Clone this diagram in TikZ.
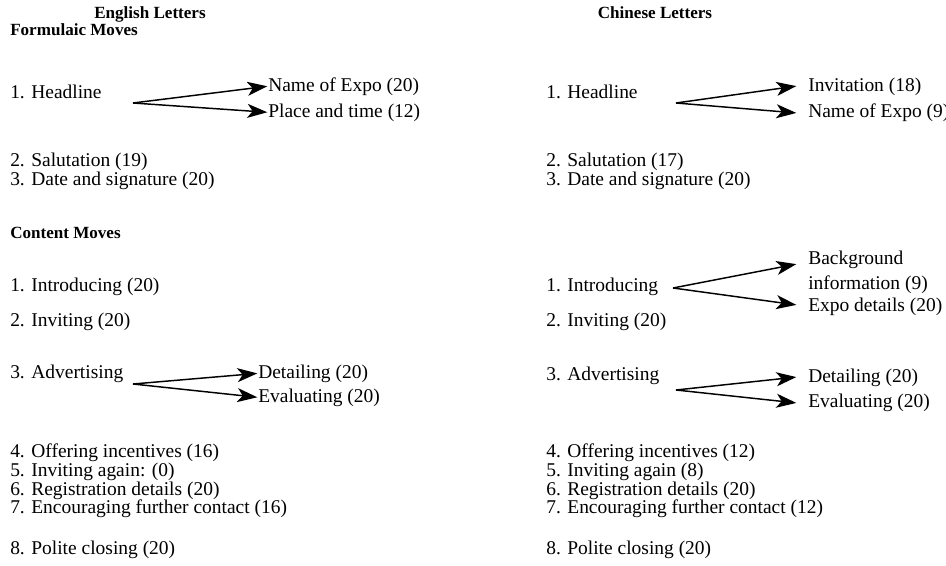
\documentclass[tikz,border=0pt]{standalone}
\usepackage{fontspec}
\setmainfont{Liberation Serif}
\usetikzlibrary{arrows.meta}
\begin{document}
\begin{tikzpicture}[x=0.75pt,y=-0.75pt,
  txt/.style={anchor=base west,inner sep=0pt,font=\fontsize{14.6}{16}\selectfont},
  hdr/.style={txt,font=\fontsize{12.8}{14}\selectfont\bfseries},
  arr/.style={-{Stealth[length=15pt,width=10.5pt,inset=4pt]},line width=1.1pt,shorten >=0.5pt}]
\useasboundingbox (0,0) rectangle (946,566);
% ---------- English ----------
\node[hdr,anchor=base] (eh) at (150,19) {English Letters};
\node[hdr] (efm) at (10,36) {Formulaic Moves};
\node[txt] (e1) at (10,99) {1. Headline};
\node[txt] (e1a) at (268,92) {Name of Expo (20)};
\node[txt] (e1b) at (268,118) {Place and time (12)};
\node[txt] (e2) at (10,167) {2. Salutation (19)};
\node[txt] (e3) at (10,186) {3. Date and signature (20)};
\node[hdr] (ecm) at (10,239) {Content Moves};
\node[txt] (c1) at (10,292) {1. Introducing (20)};
\node[txt] (c2) at (10,327) {2. Inviting (20)};
\node[txt] (c3) at (10,379) {3. Advertising};
\node[txt] (c3a) at (258,379) {Detailing (20)};
\node[txt] (c3b) at (258,403) {Evaluating (20)};
\node[txt] (c4) at (10,458) {4. Offering incentives (16)};
\node[txt] (c5) at (10,476) {5. Inviting again: (0)};
\node[txt] (c6) at (10,495) {6. Registration details (20)};
\node[txt] (c7) at (10,513) {7. Encouraging further contact (16)};
\node[txt] (c8) at (10,554) {8. Polite closing (20)};
\coordinate (e1s) at (133,103);
\coordinate (c3s) at (133,384);
\draw[arr] (e1s) -- ([yshift=0.75pt]e1a.west);
\draw[arr] (e1s) -- ([yshift=0.75pt]e1b.west);
\draw[arr] (c3s) -- ([yshift=0.75pt]c3a.west);
\draw[arr] (c3s) -- ([yshift=0.75pt]c3b.west);
% ---------- Chinese ----------
\node[hdr,anchor=base] (ch) at (655,19) {Chinese Letters};
\node[txt] (z1) at (546,99) {1. Headline};
\node[txt] (z1a) at (808,92) {Invitation (18)};
\node[txt] (z1b) at (808,118) {Name of Expo (9)};
\node[txt] (z2) at (546,167) {2. Salutation (17)};
\node[txt] (z3) at (546,186) {3. Date and signature (20)};
\node[txt] (d1) at (546,292) {1. Introducing};
\node[txt] (d1a) at (808,265) {Background};
\node[txt] (d1b) at (808,290) {information (9)};
\node[txt] (d1c) at (808,312) {Expo details (20)};
\node[txt] (d2) at (546,327) {2. Inviting (20)};
\node[txt] (d3) at (546,381) {3. Advertising};
\node[txt] (d3a) at (808,383) {Detailing (20)};
\node[txt] (d3b) at (808,408) {Evaluating (20)};
\node[txt] (d4) at (546,458) {4. Offering incentives (12)};
\node[txt] (d5) at (546,476) {5. Inviting again (8)};
\node[txt] (d6) at (546,495) {6. Registration details (20)};
\node[txt] (d7) at (546,513) {7. Encouraging further contact (12)};
\node[txt] (d8) at (546,554) {8. Polite closing (20)};
\coordinate (z1s) at (676,103);
\coordinate (d1s) at (673,288);
\coordinate (d3s) at (676,390);
\coordinate (z1at) at (797,86);
\coordinate (z1bt) at (797,113);
\coordinate (d1at) at (797,264);
\coordinate (d1ct) at (797,305);
\coordinate (d3at) at (797,377);
\coordinate (d3bt) at (797,403);
\draw[arr] (z1s) -- (z1at);
\draw[arr] (z1s) -- (z1bt);
\draw[arr] (d1s) -- (d1at);
\draw[arr] (d1s) -- (d1ct);
\draw[arr] (d3s) -- (d3at);
\draw[arr] (d3s) -- (d3bt);
\end{tikzpicture}
\end{document}
